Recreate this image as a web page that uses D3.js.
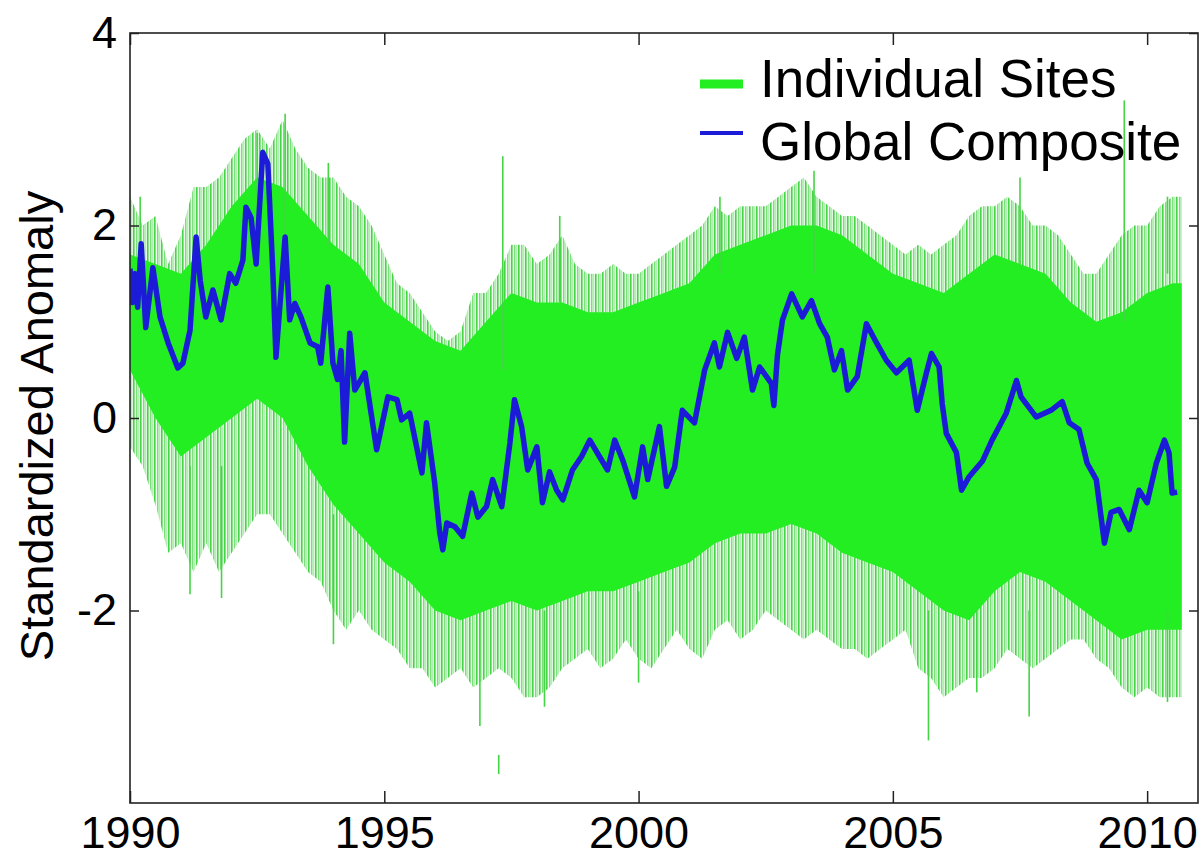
<!DOCTYPE html>
<html lang="en">
<head>
<meta charset="UTF-8">
<title>Standardized Anomaly</title>
<script src="https://d3js.org/d3.v7.min.js"></script>
<style>
  body { margin: 0; background: #fff; }
  text { font-family: "Liberation Sans", Arial, Helvetica, sans-serif; fill: #000; }
</style>
</head>
<body>
<div id="chart"></div>
<script>
// ---- data ----
// individual sites: envelope of the spikes, quarter-year grid (+ last sample)
var siteYears = d3.range(1990, 2010.51, 0.25).concat([2010.68]);
var spikeHi = [2.3, 2.0, 2.1, 1.6, 1.9, 2.4, 2.4, 2.5, 2.7, 2.9, 3.0, 2.8,
               3.1, 2.8, 2.6, 2.5, 2.5, 2.3, 2.2, 2.0, 1.7, 1.4, 1.3, 1.1,
               0.9, 0.8, 0.9, 1.3, 1.3, 1.5, 1.8, 1.8, 1.6, 1.7, 1.9, 1.6,
               1.5, 1.5, 1.6, 1.5, 1.5, 1.6, 1.7, 1.8, 1.9, 2.0, 2.2, 2.1,
               2.2, 2.2, 2.2, 2.3, 2.4, 2.5, 2.3, 2.2, 2.1, 2.1, 2.0, 1.9,
               1.8, 1.7, 1.8, 1.7, 1.8, 1.9, 2.1, 2.2, 2.2, 2.3, 2.2, 2.0,
               2.0, 1.9, 1.7, 1.5, 1.5, 1.7, 1.9, 2.0, 2.0, 2.2, 2.3, 2.3];
var spikeLo = [-0.3, -0.5, -0.9, -1.4, -1.3, -1.6, -1.3, -1.6, -1.4, -1.2, -1.0, -1.0,
               -1.2, -1.4, -1.6, -1.7, -2.0, -2.2, -2.0, -2.2, -2.3, -2.4, -2.6, -2.6,
               -2.8, -2.7, -2.6, -2.8, -2.7, -2.6, -2.7, -2.9, -2.9, -2.8, -2.6, -2.5,
               -2.4, -2.6, -2.5, -2.3, -2.5, -2.6, -2.4, -2.2, -2.4, -2.5, -2.2, -2.1,
               -2.3, -2.2, -2.0, -2.1, -2.2, -2.3, -2.2, -2.3, -2.4, -2.4, -2.5, -2.4,
               -2.3, -2.2, -2.6, -2.7, -2.9, -2.8, -2.7, -2.7, -2.6, -2.4, -2.5, -2.6,
               -2.5, -2.4, -2.3, -2.3, -2.5, -2.6, -2.8, -2.9, -2.8, -2.9, -2.9, -2.9];

// dense core of the site curves, half-year grid (+ last sample)
var coreYears = d3.range(1990, 2010.51, 0.5).concat([2010.68]);
var coreHi = [1.7, 1.6, 1.5, 1.8, 2.2, 2.5, 2.4, 2.1, 1.8, 1.6, 1.2, 1.0, 0.8, 0.7,
              1.0, 1.3, 1.2, 1.2, 1.1, 1.1, 1.2, 1.3, 1.4, 1.7, 1.8, 1.9, 2.0, 2.0,
              1.9, 1.7, 1.5, 1.4, 1.3, 1.5, 1.7, 1.6, 1.5, 1.2, 1.0, 1.1, 1.3, 1.4, 1.4];
var coreLo = [0.5, 0.0, -0.4, -0.2, 0.0, 0.2, 0.0, -0.5, -0.9, -1.2, -1.5, -1.7, -2.0, -2.1,
              -2.0, -1.9, -2.0, -1.9, -1.8, -1.8, -1.7, -1.6, -1.5, -1.3, -1.2, -1.2, -1.1, -1.2,
              -1.4, -1.5, -1.6, -1.8, -2.0, -2.1, -1.8, -1.6, -1.7, -1.9, -2.1, -2.3, -2.2, -2.2, -2.2];

// single spikes that stick out of the envelope: [year, low, high]
var bigSpikes = [[1990.2, 1.6, 2.3], [1992.5, 1.8, 2.96], [1993.05, 1.5, 3.16], [1993.9, 1.8, 2.65],
                 [1997.33, 0.5, 2.72], [1998.45, 1.2, 2.1], [2001.6, 1.5, 2.3], [2003.45, 1.5, 2.57],
                 [2007.5, 1.6, 2.5], [2009.55, 1.0, 3.3], [2010.4, 1.5, 2.3],
                 [1991.18, -1.83, -0.5], [1991.8, -1.87, -0.5], [1994.0, -2.35, -1.0],
                 [1996.88, -3.2, -2.0], [1998.15, -3.0, -2.0], [2000.0, -2.75, -1.8],
                 [2005.7, -3.35, -2.0], [2006.65, -2.85, -2.0], [2007.68, -3.1, -2.0],
                 [2010.4, -2.95, -2.0], [1997.25, -3.7, -3.5]];

// global composite
var compYears = [1990.00, 1990.05, 1990.10, 1990.15, 1990.22, 1990.31, 1990.45, 1990.59, 1990.75, 1990.94,
                 1991.04, 1991.18, 1991.30, 1991.38, 1991.49, 1991.63, 1991.79, 1991.96, 1992.08, 1992.22,
                 1992.28, 1992.38, 1992.48, 1992.61, 1992.71, 1992.81, 1992.87, 1993.05, 1993.14, 1993.24,
                 1993.36, 1993.54, 1993.69, 1993.75, 1993.89, 1993.99, 1994.08, 1994.15, 1994.22, 1994.32,
                 1994.42, 1994.62, 1994.85, 1995.07, 1995.25, 1995.34, 1995.50, 1995.74, 1995.83, 1995.99,
                 1996.09, 1996.15, 1996.23, 1996.39, 1996.54, 1996.72, 1996.84, 1997.01, 1997.13, 1997.31,
                 1997.47, 1997.56, 1997.70, 1997.82, 1998.00, 1998.11, 1998.25, 1998.39, 1998.51, 1998.70,
                 1998.88, 1999.04, 1999.23, 1999.39, 1999.53, 1999.69, 1999.92, 2000.08, 2000.18, 2000.41,
                 2000.55, 2000.71, 2000.86, 2001.10, 2001.30, 2001.49, 2001.59, 2001.75, 2001.93, 2002.08,
                 2002.24, 2002.38, 2002.61, 2002.66, 2002.73, 2002.83, 2003.01, 2003.22, 2003.40, 2003.56,
                 2003.71, 2003.85, 2003.99, 2004.11, 2004.30, 2004.48, 2004.68, 2004.87, 2005.07, 2005.32,
                 2005.48, 2005.66, 2005.76, 2005.91, 2005.97, 2006.05, 2006.25, 2006.35, 2006.50, 2006.76,
                 2006.95, 2007.23, 2007.43, 2007.52, 2007.82, 2008.11, 2008.33, 2008.47, 2008.66, 2008.82,
                 2009.00, 2009.16, 2009.29, 2009.45, 2009.65, 2009.84, 2010.00, 2010.18, 2010.34, 2010.43,
                 2010.49, 2010.59];
var compValues = [1.55, 1.20, 1.50, 1.15, 1.81, 0.94, 1.56, 1.05, 0.78, 0.52,
                  0.57, 0.91, 1.88, 1.43, 1.05, 1.33, 1.02, 1.50, 1.40, 1.64,
                  2.19, 2.08, 1.60, 2.76, 2.64, 1.50, 0.63, 1.88, 1.02, 1.19,
                  1.05, 0.78, 0.74, 0.57, 1.36, 0.57, 0.40, 0.70, -0.25, 0.88,
                  0.29, 0.47, -0.33, 0.22, 0.19, -0.02, 0.05, -0.57, -0.05, -0.67,
                  -1.19, -1.37, -1.09, -1.13, -1.23, -0.78, -1.03, -0.92, -0.64, -0.92,
                  -0.26, 0.19, -0.09, -0.54, -0.30, -0.88, -0.56, -0.75, -0.85, -0.54,
                  -0.40, -0.23, -0.40, -0.54, -0.23, -0.44, -0.82, -0.30, -0.64, -0.09,
                  -0.71, -0.51, 0.08, -0.05, 0.50, 0.78, 0.53, 0.89, 0.62, 0.84,
                  0.29, 0.53, 0.36, 0.13, 0.65, 1.02, 1.29, 1.05, 1.22, 0.98,
                  0.84, 0.50, 0.70, 0.29, 0.43, 0.98, 0.78, 0.60, 0.47, 0.60,
                  0.08, 0.47, 0.67, 0.53, 0.15, -0.16, -0.36, -0.75, -0.61, -0.45,
                  -0.23, 0.05, 0.39, 0.22, 0.01, 0.08, 0.17, -0.05, -0.12, -0.47,
                  -0.64, -1.30, -0.98, -0.95, -1.16, -0.75, -0.88, -0.47, -0.23, -0.36,
                  -0.78, -0.77];

var xTicks = [1990, 1995, 2000, 2005, 2010];
var yTicks = [-2, 0, 2, 4];
var legendLabels = ["Individual Sites", "Global Composite"];

// ---- layout ----
var W = 1203, H = 859;
var box = { left: 130, right: 1198, top: 33, bottom: 803 };
var green = "#22ee22", spikeGreen = "#45d445", blue = "#1b1bd8";

var svg = d3.select("#chart").append("svg")
    .attr("width", W)
    .attr("height", H);

var x = d3.scaleLinear().domain([1990, 2011]).range([box.left, box.right]);
var y = d3.scaleLinear().domain([-4, 4]).range([box.bottom, box.top]);

var defs = svg.append("defs");
defs.append("clipPath").attr("id", "plotclip")
    .append("rect")
    .attr("x", box.left).attr("y", box.top)
    .attr("width", box.right - box.left).attr("height", box.bottom - box.top);

// vertical hairline texture for the thin spike fringe
var pat = defs.append("pattern").attr("id", "hairs")
    .attr("patternUnits", "userSpaceOnUse")
    .attr("width", 7).attr("height", 10);
pat.append("rect").attr("width", 7).attr("height", 10).attr("fill", "#f2fdf2");
pat.append("rect").attr("x", 0).attr("width", 1.6).attr("height", 10).attr("fill", spikeGreen);
pat.append("rect").attr("x", 3.2).attr("width", 1.2).attr("height", 10).attr("fill", "#5fd85f");
pat.append("rect").attr("x", 5.4).attr("width", 0.8).attr("height", 10).attr("fill", "#8fe48f");

var plot = svg.append("g").attr("clip-path", "url(#plotclip)");

var spikeRows = siteYears.map(function (t, i) { return { t: t, lo: spikeLo[i], hi: spikeHi[i] }; });
var coreRows = coreYears.map(function (t, i) { return { t: t, lo: coreLo[i], hi: coreHi[i] }; });

var band = d3.area()
    .x(function (d) { return x(d.t); })
    .y0(function (d) { return y(d.lo); })
    .y1(function (d) { return y(d.hi); });

plot.append("path")
    .datum(spikeRows)
    .attr("d", band)
    .attr("fill", "url(#hairs)");

plot.append("path")
    .datum(coreRows)
    .attr("d", band)
    .attr("fill", green);

plot.selectAll(".spike")
    .data(bigSpikes)
    .enter()
    .append("line")
    .attr("class", "spike")
    .attr("x1", function (d) { return x(d[0]); })
    .attr("x2", function (d) { return x(d[0]); })
    .attr("y1", function (d) { return y(d[1]); })
    .attr("y2", function (d) { return y(d[2]); })
    .attr("stroke", spikeGreen)
    .attr("stroke-width", 1.6);

var comp = compYears.map(function (t, i) { return { t: t, v: compValues[i] }; });
var line = d3.line()
    .x(function (d) { return x(d.t); })
    .y(function (d) { return y(d.v); });

plot.append("path")
    .datum(comp)
    .attr("d", line)
    .attr("fill", "none")
    .attr("stroke", blue)
    .attr("stroke-width", 5.5)
    .attr("stroke-linejoin", "round");

// ---- axes (matlab style box, ticks inside) ----
svg.append("g")
    .attr("transform", "translate(0," + box.bottom + ")")
    .call(d3.axisBottom(x).tickValues(xTicks).tickSizeInner(-12).tickSizeOuter(0)
        .tickPadding(13).tickFormat(function (d) { return String(d); }))
    .call(function (g) { g.select(".domain").remove(); })
    .call(function (g) {
        g.selectAll("line").attr("stroke", "#222").attr("stroke-width", 1.5);
        g.selectAll("text").attr("font-size", 45).attr("font-family", null);
    });

svg.append("g")
    .attr("transform", "translate(0," + box.top + ")")
    .call(d3.axisTop(x).tickValues(xTicks).tickSizeInner(-12).tickSizeOuter(0).tickFormat(""))
    .call(function (g) { g.select(".domain").remove(); })
    .call(function (g) { g.selectAll("line").attr("stroke", "#222").attr("stroke-width", 1.5); });

svg.append("g")
    .attr("transform", "translate(" + box.left + ",0)")
    .call(d3.axisLeft(y).tickValues(yTicks).tickSizeInner(-9).tickSizeOuter(0)
        .tickPadding(13).tickFormat(function (d) { return String(d); }))
    .call(function (g) { g.select(".domain").remove(); })
    .call(function (g) {
        g.selectAll("line").attr("stroke", "#222").attr("stroke-width", 1.5);
        g.selectAll("text").attr("font-size", 45).attr("font-family", null);
    });

svg.append("g")
    .attr("transform", "translate(" + box.right + ",0)")
    .call(d3.axisRight(y).tickValues(yTicks).tickSizeInner(-9).tickSizeOuter(0).tickFormat(""))
    .call(function (g) { g.select(".domain").remove(); })
    .call(function (g) { g.selectAll("line").attr("stroke", "#222").attr("stroke-width", 1.5); });

svg.append("rect")
    .attr("x", box.left).attr("y", box.top)
    .attr("width", box.right - box.left).attr("height", box.bottom - box.top)
    .attr("fill", "none")
    .attr("stroke", "#222")
    .attr("stroke-width", 1.6);

// y label
svg.append("text")
    .attr("transform", "translate(53," + ((box.top + box.bottom) / 2 + 8) + ") rotate(-90)")
    .attr("text-anchor", "middle")
    .attr("font-size", 47)
    .text("Standardized Anomaly");

// ---- legend ----
var legend = svg.append("g");
var legendStyle = [{ color: green, width: 9, ly: 84, ty: 97 }, { color: blue, width: 4, ly: 133, ty: 160 }];
legend.selectAll("line")
    .data(legendStyle)
    .enter()
    .append("line")
    .attr("x1", 700).attr("x2", 743)
    .attr("y1", function (d) { return d.ly; })
    .attr("y2", function (d) { return d.ly; })
    .attr("stroke", function (d) { return d.color; })
    .attr("stroke-width", function (d) { return d.width; });
legend.selectAll("text")
    .data(legendStyle)
    .enter()
    .append("text")
    .attr("x", 760)
    .attr("y", function (d) { return d.ty; })
    .attr("font-size", 53)
    .text(function (d, i) { return legendLabels[i]; });
</script>
</body>
</html>
